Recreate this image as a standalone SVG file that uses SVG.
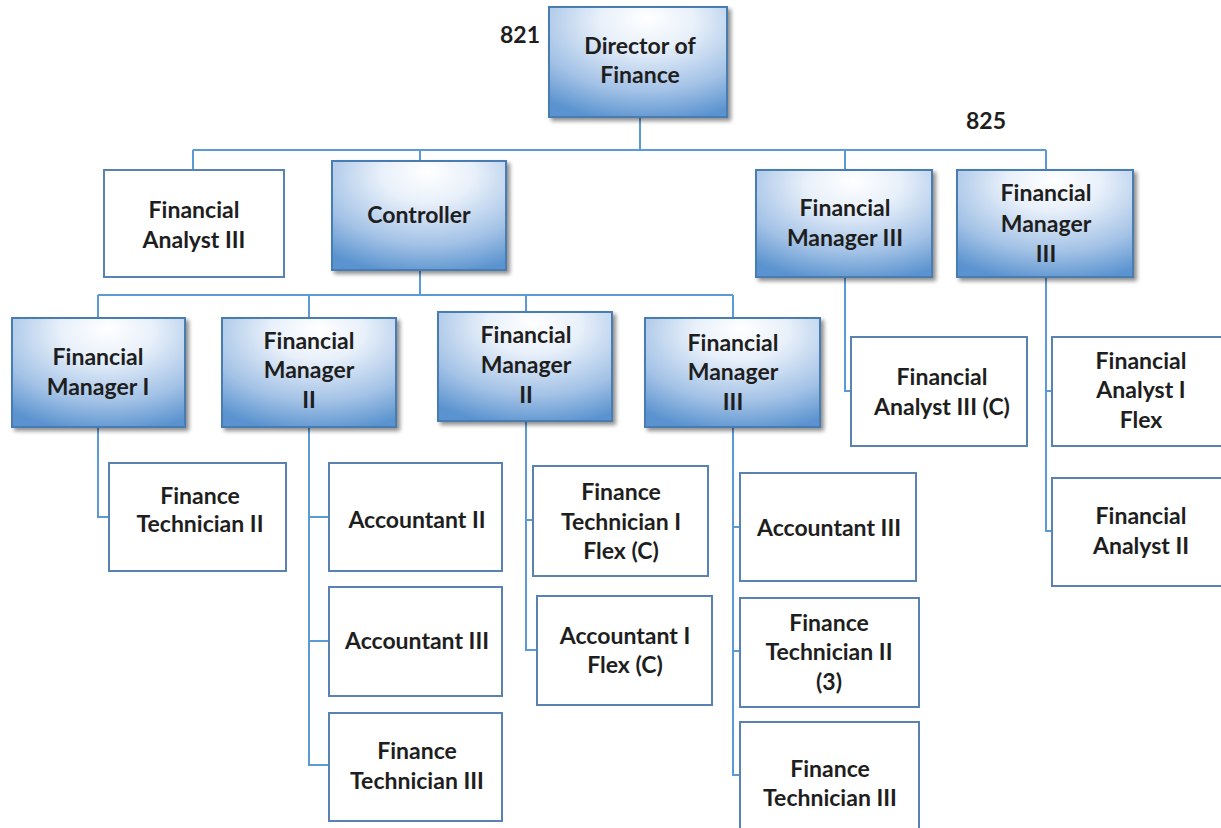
<svg xmlns="http://www.w3.org/2000/svg" width="1221" height="828" viewBox="0 0 1221 828">
  <defs>
    <radialGradient id="mgr" cx="0.55" cy="0.15" r="0.9" fx="0.55" fy="0.1">
      <stop offset="0" stop-color="#ffffff"/>
      <stop offset="0.3" stop-color="#e8f0fa"/>
      <stop offset="0.7" stop-color="#a3c2e6"/>
      <stop offset="1" stop-color="#5a93cf"/>
    </radialGradient>
    <filter id="shadow" x="-10%" y="-10%" width="125%" height="130%">
      <feGaussianBlur in="SourceAlpha" stdDeviation="2"/>
      <feOffset dx="3" dy="3" result="b"/>
      <feComponentTransfer><feFuncA type="linear" slope="0.45"/></feComponentTransfer>
      <feMerge><feMergeNode/><feMergeNode in="SourceGraphic"/></feMerge>
    </filter>
  </defs>
  <style>
    .mgr rect { fill: url(#mgr); stroke: #4a7cb0; stroke-width: 2; filter: url(#shadow); }
    .pos rect { fill: #ffffff; stroke: #5a82b0; stroke-width: 2; }
    text { font-family: Lato, "Open Sans", "Liberation Sans", sans-serif; font-weight: bold; font-size: 23px; fill: #1e1e1e; text-anchor: middle; }
    .num { text-anchor: start; }
    #connectors path { fill: none; stroke: #5b9bd5; stroke-width: 2; }
  </style>
  <rect width="1221" height="828" fill="#ffffff"/>

  <!-- reporting lines -->
  <g id="connectors">
    <path d="M640 117 V150 M193 150 H1046 M193 150 V170 M420 150 V161 M845 150 V170 M1046 150 V170"/>
    <path d="M420 270 V295 M98 295 H733 M98 295 V318 M309 295 V318 M526 295 V312 M733 295 V318"/>
    <path d="M98 427 V517 H109"/>
    <path d="M309 427 V765 H329 M309 517 H329 M309 641 H329"/>
    <path d="M526 421 V650 H537 M526 520 H533"/>
    <path d="M733 427 V775 H740 M733 527 H740 M733 651 H740"/>
    <path d="M845 277 V391 H851"/>
    <path d="M1046 277 V531 H1052 M1046 391 H1052"/>
  </g>

  <text class="num" x="500" y="43">821</text>
  <text class="num" x="966" y="129">825</text>

  <g id="director" class="mgr">
    <rect x="549" y="7" width="178" height="110"/>
    <text x="640" y="54">Director of</text>
    <text x="640" y="83">Finance</text>
  </g>

  <g id="analyst3" class="pos">
    <rect x="104" y="170" width="180" height="107"/>
    <text x="194" y="218">Financial</text>
    <text x="194" y="248">Analyst III</text>
  </g>

  <g id="controller" class="mgr">
    <rect x="332" y="161" width="174" height="109"/>
    <text x="419" y="223">Controller</text>
  </g>

  <g id="fm3-a" class="mgr">
    <rect x="756" y="170" width="176" height="107"/>
    <text x="845" y="216">Financial</text>
    <text x="845" y="246">Manager III</text>
  </g>

  <g id="fm3-b" class="mgr">
    <rect x="957" y="170" width="176" height="107"/>
    <text x="1046" y="201">Financial</text>
    <text x="1046" y="232">Manager</text>
    <text x="1046" y="262">III</text>
  </g>

  <g id="fm1" class="mgr">
    <rect x="12" y="318" width="173" height="109"/>
    <text x="98" y="365">Financial</text>
    <text x="98" y="395">Manager I</text>
  </g>

  <g id="fm2-a" class="mgr">
    <rect x="222" y="318" width="174" height="109"/>
    <text x="309" y="349">Financial</text>
    <text x="309" y="378">Manager</text>
    <text x="309" y="408">II</text>
  </g>

  <g id="fm2-b" class="mgr">
    <rect x="438" y="312" width="174" height="109"/>
    <text x="526" y="343">Financial</text>
    <text x="526" y="373">Manager</text>
    <text x="526" y="403">II</text>
  </g>

  <g id="fm3-c" class="mgr">
    <rect x="645" y="318" width="175" height="109"/>
    <text x="733" y="351">Financial</text>
    <text x="733" y="380">Manager</text>
    <text x="733" y="410">III</text>
  </g>

  <g id="tech2-a" class="pos">
    <rect x="109" y="463" width="177" height="108"/>
    <text x="200" y="504">Finance</text>
    <text x="200" y="532">Technician II</text>
  </g>

  <g id="acct2" class="pos">
    <rect x="329" y="463" width="173" height="108"/>
    <text x="417" y="528">Accountant II</text>
  </g>

  <g id="acct3-a" class="pos">
    <rect x="329" y="587" width="173" height="109"/>
    <text x="417" y="649">Accountant III</text>
  </g>

  <g id="tech3-a" class="pos">
    <rect x="329" y="713" width="173" height="108"/>
    <text x="417" y="759">Finance</text>
    <text x="417" y="789">Technician III</text>
  </g>

  <g id="tech1-flex" class="pos">
    <rect x="533" y="466" width="175" height="110"/>
    <text x="621" y="500">Finance</text>
    <text x="621" y="530">Technician I</text>
    <text x="621" y="559">Flex (C)</text>
  </g>

  <g id="acct1-flex" class="pos">
    <rect x="537" y="596" width="175" height="109"/>
    <text x="625" y="644">Accountant I</text>
    <text x="625" y="673">Flex (C)</text>
  </g>

  <g id="acct3-b" class="pos">
    <rect x="740" y="473" width="176" height="108"/>
    <text x="829" y="536">Accountant III</text>
  </g>

  <g id="tech2-b" class="pos">
    <rect x="740" y="598" width="179" height="109"/>
    <text x="829" y="631">Finance</text>
    <text x="829" y="660">Technician II</text>
    <text x="829" y="690">(3)</text>
  </g>

  <g id="tech3-b" class="pos">
    <rect x="740" y="722" width="179" height="110"/>
    <text x="830" y="777">Finance</text>
    <text x="830" y="806">Technician III</text>
  </g>

  <g id="analyst3-c" class="pos">
    <rect x="851" y="337" width="176" height="109"/>
    <text x="942" y="385">Financial</text>
    <text x="942" y="415">Analyst III (C)</text>
  </g>

  <g id="analyst1-flex" class="pos">
    <rect x="1052" y="337" width="180" height="109"/>
    <text x="1141" y="369">Financial</text>
    <text x="1141" y="398">Analyst I</text>
    <text x="1141" y="428">Flex</text>
  </g>

  <g id="analyst2" class="pos">
    <rect x="1052" y="478" width="180" height="108"/>
    <text x="1141" y="524">Financial</text>
    <text x="1141" y="554">Analyst II</text>
  </g>
</svg>
